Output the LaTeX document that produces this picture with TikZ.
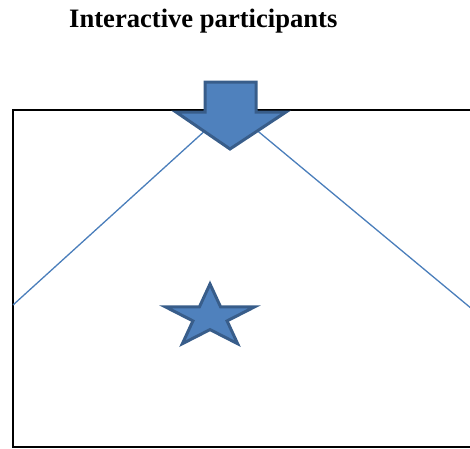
\documentclass[tikz,border=0pt]{standalone}
\usepackage{fontspec}
\setmainfont{Liberation Serif}
\definecolor{shapefill}{HTML}{4F81BD}
\definecolor{shapeline}{HTML}{385D8A}
\definecolor{linkblue}{HTML}{4A7EBB}
\tikzset{
  shapestyle/.style={fill=shapefill, draw=shapeline, line width=3pt, line join=miter},
  linkstyle/.style={draw=linkblue, line width=1.3pt},
  framestyle/.style={draw=black, line width=2pt},
  titlestyle/.style={font=\fontsize{26.6}{30}\selectfont\bfseries, anchor=base west, inner sep=0pt}
}
\begin{document}
\begin{tikzpicture}[x=1pt, y=-1pt]
\useasboundingbox (0,0) rectangle (470,448);
\clip (0,0) rectangle (470,448);
\node[titlestyle] (title) at (69,27) {Interactive participants};
\draw[framestyle] (13,110) rectangle (490,447);
\coordinate (apex) at (230,108);
\coordinate (leftend) at (13,305);
\coordinate (rightend) at (472,309);
\draw[linkstyle] (apex) -- (leftend);
\draw[linkstyle] (apex) -- (rightend);
\draw[shapestyle] (205,82) -- (256,82) -- (256,112) -- (286,112) -- (230,149) -- (176,112) -- (205,112) -- cycle;
\draw[shapestyle] plot[samples at={0,...,9}, variable=\i]
  ({210 + (mod(\i,2)==0 ? 47 : 17.95)*cos(90+36*\i)}, {317 - (mod(\i,2)==0 ? 33 : 12.6)*sin(90+36*\i)}) -- cycle;
\end{tikzpicture}
\end{document}
